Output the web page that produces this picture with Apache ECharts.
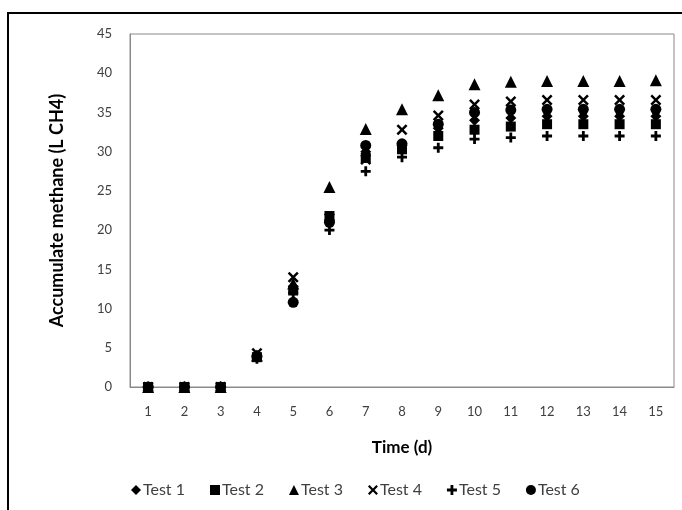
<!DOCTYPE html>
<html>
<head>
<meta charset="utf-8">
<script src="https://cdn.jsdelivr.net/npm/echarts@6/dist/echarts.min.js"></script>
<style>
  html, body { margin: 0; padding: 0; background: #fff; }
  #chart { width: 682px; height: 510px; }
</style>
</head>
<body>
<div id="chart"></div>
<script>
// days on the x axis
const days = ['1', '2', '3', '4', '5', '6', '7', '8', '9', '10', '11', '12', '13', '14', '15'];
const yTicks = [0, 5, 10, 15, 20, 25, 30, 35, 40, 45];

// accumulated methane, L CH4
const test1 = [0, 0, 0, 4.0, 12.8, 21.3, 30.0, 30.8, 33.0, 34.0, 34.3, 34.5, 34.5, 34.5, 34.5];
const test2 = [0, 0, 0, 3.8, 12.3, 21.8, 29.2, 30.3, 32.0, 32.8, 33.2, 33.5, 33.5, 33.5, 33.5];
const test3 = [0, 0, 0, 4.0, 13.2, 25.5, 32.9, 35.4, 37.2, 38.6, 38.9, 39.0, 39.0, 39.0, 39.1];
const test4 = [0, 0, 0, 4.3, 14.0, 21.5, 29.0, 32.8, 34.6, 36.0, 36.4, 36.6, 36.6, 36.6, 36.6];
const test5 = [0, 0, 0, 3.6, 12.0, 20.0, 27.5, 29.3, 30.5, 31.6, 31.8, 32.0, 32.0, 32.0, 32.0];
const test6 = [0, 0, 0, 3.9, 10.8, 21.0, 30.8, 31.0, 33.5, 35.0, 35.3, 35.4, 35.4, 35.4, 35.4];

const font = 'Lato, "Open Sans", sans-serif';
const crossPath = 'path://M0,1.6L1.6,0L5,3.4L8.4,0L10,1.6L6.6,5L10,8.4L8.4,10L5,6.6L1.6,10L0,8.4L3.4,5Z';
const plusPath = 'path://M3.6,0H6.4V3.6H10V6.4H6.4V10H3.6V6.4H0V3.6H3.6Z';

let myChart = echarts.init(document.getElementById('chart'));

function mk(name, data, symbol, size) {
  return {
    name: name,
    type: 'scatter',
    data: data,
    symbol: symbol,
    symbolSize: size,
    itemStyle: { color: '#000', opacity: 1 }
  };
}

let option = {
  animation: false,
  backgroundColor: '#fff',
  textStyle: { fontFamily: font },
  graphic: [{
    type: 'rect',
    shape: { x: 8, y: 13, width: 700, height: 520 },
    style: { fill: 'none', stroke: '#000', lineWidth: 2 },
    silent: true
  }],
  grid: {
    left: 130, right: 8, top: 34, bottom: 123,
    show: true,
    borderColor: '#8a8a8a',
    borderWidth: 1
  },
  legend: {
    top: 477,
    left: 126,
    itemWidth: 10,
    itemHeight: 10,
    itemGap: 25,
    textStyle: { color: '#404040', fontSize: 16, fontFamily: font, padding: [0, 0, 0, -3] },
    data: ['Test 1', 'Test 2', 'Test 3', 'Test 4', 'Test 5', 'Test 6']
  },
  xAxis: {
    type: 'category',
    data: days,
    name: 'Time (d)',
    nameLocation: 'middle',
    nameGap: 52,
    nameTextStyle: { color: '#000', fontWeight: 'bold', fontSize: 17, fontFamily: font },
    axisLine: { lineStyle: { color: '#8a8a8a' } },
    axisTick: { show: false },
    axisLabel: { color: '#404040', fontSize: 13, margin: 18 },
    splitLine: { show: false }
  },
  yAxis: {
    type: 'value',
    min: 0,
    max: 45,
    interval: 5,
    name: 'Accumulate methane (L CH4)',
    nameLocation: 'middle',
    nameGap: 64,
    nameTextStyle: { color: '#000', fontWeight: 'bold', fontSize: 18, fontFamily: font },
    axisLine: { show: true, lineStyle: { color: '#8a8a8a' } },
    axisTick: { show: false },
    axisLabel: {
      color: '#404040', fontSize: 13, margin: 18,
      formatter: function (v) { return yTicks.indexOf(v) >= 0 ? String(v) : ''; }
    },
    splitLine: { show: false }
  },
  series: [
    mk('Test 1', test1, 'diamond', 11),
    mk('Test 2', test2, 'rect', 10),
    mk('Test 3', test3, 'triangle', 12),
    mk('Test 4', test4, crossPath, 11),
    mk('Test 5', test5, plusPath, 10),
    mk('Test 6', test6, 'circle', 11)
  ]
};

myChart.setOption(option);
</script>
</body>
</html>
